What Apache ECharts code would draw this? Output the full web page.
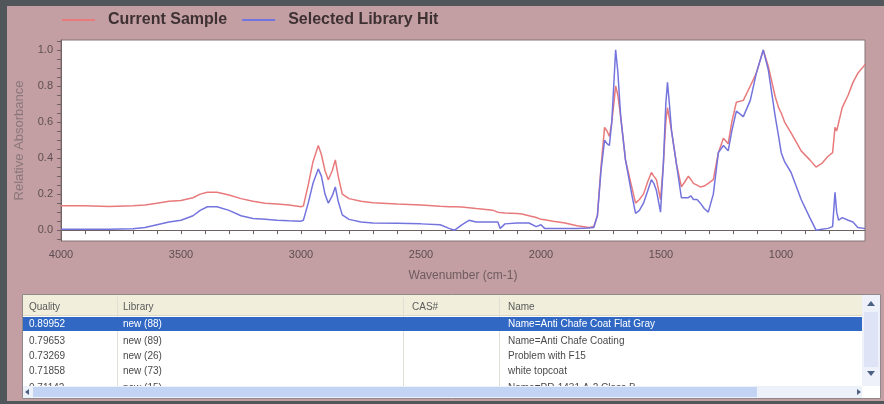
<!DOCTYPE html>
<html>
<head>
<meta charset="utf-8">
<script src="https://cdn.jsdelivr.net/npm/echarts@6/dist/echarts.min.js"></script>
<style>
  html, body { margin: 0; padding: 0; background: #c39fa3; }
  #chart { width: 884px; height: 404px; }
</style>
</head>
<body>
<div id="chart"></div>
<script>
// Spectrum: wavenumber (cm-1) and relative absorbance of both traces
const wavenumbers = [
  4000, 3900, 3800, 3700, 3650, 3600, 3550, 3500, 3450, 3420, 3390, 3350, 3300, 3250, 3200, 3150, 3100, 3050, 3000,
  2990, 2970, 2950, 2928, 2915, 2900, 2886, 2870, 2857, 2845, 2828, 2800, 2750, 2700, 2600, 2500, 2420, 2383, 2360,
  2330, 2300, 2270, 2200, 2180, 2170, 2150, 2100, 2080, 2050, 2020, 2000, 1985, 1950, 1900, 1850, 1800, 1780, 1765,
  1750, 1735, 1725, 1715, 1705, 1695, 1689, 1680, 1668, 1648, 1622, 1606, 1590, 1573, 1555, 1540, 1530, 1519, 1502,
  1490, 1480, 1473, 1465, 1456, 1436, 1415, 1400, 1386, 1375, 1365, 1350, 1336, 1320, 1303, 1282, 1261, 1240, 1220,
  1205, 1186, 1157, 1128, 1103, 1074, 1053, 1024, 1010, 999, 985, 958, 916, 880, 854, 830, 804, 785, 775, 768, 760,
  745, 720, 700, 680, 655, 650
];
const currentSample = [
  0.135, 0.135, 0.132, 0.135, 0.14, 0.15, 0.16, 0.165, 0.18, 0.2, 0.21, 0.21, 0.195, 0.175, 0.16, 0.15, 0.145, 0.14, 0.13,
  0.135, 0.25, 0.38, 0.47, 0.42, 0.33, 0.28, 0.33, 0.39, 0.3, 0.2, 0.175, 0.16, 0.152, 0.145, 0.14, 0.133, 0.13, 0.13,
  0.128, 0.125, 0.12, 0.11, 0.1, 0.098, 0.096, 0.092, 0.09, 0.08, 0.07, 0.06, 0.058, 0.05, 0.04, 0.025, 0.015, 0.02, 0.08,
  0.35, 0.57, 0.55, 0.52, 0.6, 0.72, 0.8, 0.75, 0.63, 0.39, 0.24, 0.15, 0.17, 0.2, 0.27, 0.32, 0.3, 0.28, 0.17,
  0.37, 0.6, 0.68, 0.62, 0.55, 0.37, 0.24, 0.27, 0.3, 0.28, 0.26, 0.25, 0.24, 0.245, 0.26, 0.28, 0.43, 0.51, 0.48,
  0.6, 0.71, 0.72, 0.8, 0.87, 1.0, 0.91, 0.74, 0.68, 0.65, 0.6, 0.54, 0.44, 0.39, 0.35, 0.37, 0.41, 0.43, 0.57, 0.55, 0.54,
  0.68, 0.75, 0.82, 0.87, 0.91, 0.92
];
const libraryHit = [
  0.005, 0.005, 0.005, 0.008, 0.015, 0.03, 0.045, 0.055, 0.08, 0.11, 0.13, 0.13, 0.11, 0.08, 0.065, 0.06, 0.055, 0.052, 0.05,
  0.055, 0.15, 0.26, 0.34, 0.3, 0.2, 0.15, 0.19, 0.24, 0.16, 0.085, 0.06, 0.045, 0.04, 0.038, 0.035, 0.03, 0.01, 0.0,
  0.03, 0.055, 0.045, 0.045, 0.045, 0.01, 0.035, 0.04, 0.04, 0.04, 0.02, 0.03, 0.01, 0.01, 0.01, 0.01, 0.012, 0.015, 0.08,
  0.33, 0.5, 0.48, 0.47, 0.6, 0.85, 1.0, 0.88, 0.63, 0.39, 0.2, 0.093, 0.11, 0.15, 0.22, 0.28, 0.26, 0.22, 0.1,
  0.37, 0.7, 0.82, 0.7, 0.55, 0.37, 0.18, 0.18, 0.18, 0.19, 0.17, 0.17, 0.15, 0.12, 0.1, 0.2, 0.43, 0.47, 0.44,
  0.55, 0.66, 0.63, 0.72, 0.87, 1.0, 0.89, 0.63, 0.52, 0.43, 0.38, 0.32, 0.17, 0.07, 0.0, 0.005, 0.01, 0.02, 0.21, 0.1, 0.055,
  0.07, 0.055, 0.045, 0.015, 0.01, 0.01
];

// Axis tick labels
const xTickLabels = [4000, 3500, 3000, 2500, 2000, 1500, 1000];
const yTickLabels = [0.0, 0.2, 0.4, 0.6, 0.8, 1.0];

// Search results list
const tableColumns = ['Quality', 'Library', 'CAS#', 'Name'];
const hitQuality = ['0.89952', '0.79653', '0.73269', '0.71858', '0.71142'];
const hitLibrary = ['new (88)', 'new (89)', 'new (26)', 'new (73)', 'new (15)'];
const hitCas = ['', '', '', '', ''];
const hitName = ['Name=Anti Chafe Coat Flat Gray', 'Name=Anti Chafe Coating', 'Problem with F15', 'white topcoat', 'Name=PR-1431 A-2 Class B'];

const RED = '#e87a7c';
const BLUE = '#7474de';

const minorX = [];
for (let w = 700; w <= 4000; w += 100) minorX.push(w);
const minorY = [];
for (let v = -5; v <= 105; v += 5) minorY.push(+(v / 100).toFixed(2));

function zip(xs, ys) { return xs.map((x, i) => [x, ys[i]]); }

// Results table drawn as graphic elements
const colX = [29, 123, 412, 508];
const sepX = [117, 403, 499];
const rowY = [324, 341, 356, 371, 388];
const tableFont = '10px "Liberation Sans", Arial, sans-serif';
const graphics = [];
// window frame
graphics.push({ type: 'rect', shape: { x: 0, y: 0, width: 884, height: 6 }, style: { fill: '#51565b' }, silent: true });
graphics.push({ type: 'rect', shape: { x: 0, y: 0, width: 7, height: 404 }, style: { fill: '#51565b' }, silent: true });
graphics.push({ type: 'rect', shape: { x: 0, y: 401, width: 884, height: 3 }, style: { fill: '#51565b' }, silent: true });
// table body
graphics.push({ type: 'rect', shape: { x: 22.5, y: 294.5, width: 858, height: 104 }, style: { fill: '#ffffff', stroke: '#8e8a8b' }, silent: true });
graphics.push({ type: 'rect', shape: { x: 23, y: 295, width: 839, height: 20 }, style: { fill: '#f1efdc' }, silent: true });
graphics.push({ type: 'line', shape: { x1: 23, y1: 315.5, x2: 862, y2: 315.5 }, style: { stroke: '#dcd8c4' }, silent: true });
sepX.forEach(x => {
  graphics.push({ type: 'line', shape: { x1: x + 0.5, y1: 297, x2: x + 0.5, y2: 386 }, style: { stroke: '#e2e0d6' }, silent: true });
});
tableColumns.forEach((c, i) => {
  graphics.push({ type: 'text', style: { x: colX[i], y: 307, text: c, fill: '#5a5a5a', font: tableFont, verticalAlign: 'middle' }, silent: true });
});
// selected row
graphics.push({ type: 'rect', shape: { x: 23, y: 317, width: 839, height: 14 }, style: { fill: '#3068c4' }, silent: true });
hitQuality.forEach((q, r) => {
  const fill = r === 0 ? '#ffffff' : '#4a4a4a';
  const cells = [q, hitLibrary[r], hitCas[r], hitName[r]];
  cells.forEach((t, i) => {
    if (!t) return;
    graphics.push({ type: 'text', style: { x: colX[i], y: rowY[r], text: t, fill: fill, font: tableFont, verticalAlign: 'middle' }, silent: true });
  });
});
// horizontal scrollbar
graphics.push({ type: 'rect', shape: { x: 23, y: 386, width: 839, height: 12 }, style: { fill: '#edf1fa' }, silent: true });
graphics.push({ type: 'rect', shape: { x: 33, y: 387, width: 724, height: 10 }, style: { fill: '#c3d3f3' }, silent: true });
graphics.push({ type: 'polygon', shape: { points: [[29, 389], [29, 395], [25, 392]] }, style: { fill: '#4d6185' }, silent: true });
graphics.push({ type: 'polygon', shape: { points: [[857, 389], [857, 395], [861, 392]] }, style: { fill: '#4d6185' }, silent: true });
// vertical scrollbar
graphics.push({ type: 'rect', shape: { x: 862, y: 295, width: 18, height: 91 }, style: { fill: '#eef1fa' }, silent: true });
graphics.push({ type: 'rect', shape: { x: 864, y: 312, width: 14, height: 55 }, style: { fill: '#dfe3f6' }, silent: true });
graphics.push({ type: 'polygon', shape: { points: [[867, 306], [875, 306], [871, 301]] }, style: { fill: '#4d6185' }, silent: true });
graphics.push({ type: 'polygon', shape: { points: [[867, 371], [875, 371], [871, 376]] }, style: { fill: '#4d6185' }, silent: true });

const chart = echarts.init(document.getElementById('chart'), null, { renderer: 'canvas' });
chart.setOption({
  animation: false,
  backgroundColor: '#c39fa3',
  textStyle: { fontFamily: '"Liberation Sans", Arial, sans-serif' },
  legend: {
    left: 62,
    top: 12,
    padding: 0,
    icon: 'rect',
    itemWidth: 33,
    itemHeight: 2,
    itemGap: 15,
    textStyle: { fontSize: 16, fontWeight: 'bold', color: '#3e3133', padding: [0, 0, 0, 8] },
    data: ['Current Sample', 'Selected Library Hit']
  },
  grid: {
    left: 61, right: 19, top: 40, bottom: 163,
    show: true, backgroundColor: '#ffffff', borderColor: '#857477', borderWidth: 1
  },
  xAxis: {
    type: 'value',
    inverse: true,
    min: 650,
    max: 4000,
    name: 'Wavenumber (cm-1)',
    nameLocation: 'middle',
    nameGap: 29,
    nameTextStyle: { fontSize: 12, color: '#6e5c5f' },
    axisLine: { show: true, lineStyle: { color: '#6f6062' } },
    axisTick: { show: true, length: 4, customValues: minorX, lineStyle: { color: '#6f6062' } },
    axisLabel: { customValues: xTickLabels, fontSize: 11, color: '#5e4e51', margin: 8, formatter: v => String(v) },
    splitLine: { show: false }
  },
  yAxis: {
    type: 'value',
    min: -0.06,
    max: 1.055,
    name: 'Relative Absorbance',
    nameLocation: 'middle',
    nameRotate: 90,
    nameGap: 35,
    nameTextStyle: { fontSize: 13, color: '#8a777a' },
    axisLine: { show: true, lineStyle: { color: '#6f6062' } },
    axisTick: { show: true, length: 4, customValues: minorY, lineStyle: { color: '#6f6062' } },
    axisLabel: { customValues: yTickLabels, fontSize: 11, color: '#5e4e51', margin: 8, formatter: v => v.toFixed(1) },
    splitLine: { show: false }
  },
  series: [
    {
      name: 'Current Sample', type: 'line', showSymbol: false,
      data: zip(wavenumbers, currentSample),
      lineStyle: { color: RED, width: 1.5 }, itemStyle: { color: RED }
    },
    {
      name: 'Selected Library Hit', type: 'line', showSymbol: false,
      data: zip(wavenumbers, libraryHit),
      lineStyle: { color: BLUE, width: 1.5 }, itemStyle: { color: BLUE }
    }
  ],
  graphic: graphics
});
</script>
</body>
</html>
